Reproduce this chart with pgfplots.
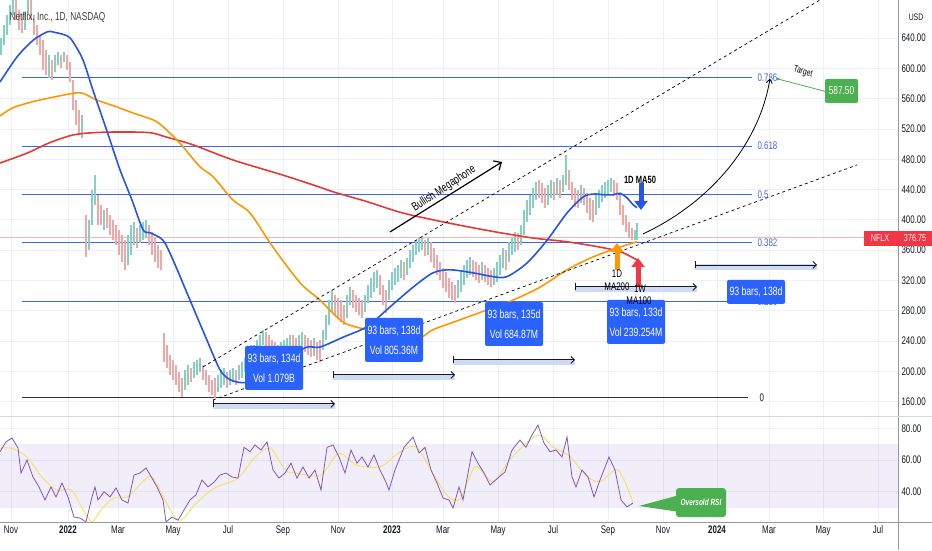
\documentclass[border=0pt]{standalone}
\usepackage{pgfplots}
\pgfplotsset{compat=1.18}
\usepackage{fontspec}
\setmainfont{Liberation Sans}[FakeStretch=0.72]
\usetikzlibrary{arrows.meta}
\definecolor{textc}{HTML}{131722}
\definecolor{gridc}{HTML}{EDF0F7}
\definecolor{sepc}{HTML}{9598A1}
\definecolor{sepl}{HTML}{D6D9E0}
\definecolor{fibc}{HTML}{3D66F0}
\definecolor{ma50}{HTML}{2455E8}
\definecolor{ma200}{HTML}{FF9800}
\definecolor{ma100}{HTML}{E53935}
\definecolor{candup}{HTML}{86CFC3}
\definecolor{canddn}{HTML}{F2A7A7}
\definecolor{boxblue}{HTML}{2962FF}
\definecolor{greenc}{HTML}{4CAF50}
\definecolor{rsic}{HTML}{7E57C2}
\definecolor{rsimac}{HTML}{F2E35A}
\definecolor{bandc}{HTML}{D0DAF5}
\definecolor{redlbl}{HTML}{F23645}
\definecolor{pricel}{HTML}{F7B5B5}
\pgfplotsset{/pgf/number format/assume math mode=true}
\newcommand{\fs}[1]{\fontsize{#1}{#1}\selectfont}
\tikzset{
  drtband/.style={fill=bandc},
  drtline/.style={textc, line width=0.9pt, {Bar[width=7pt]}-{Straight Barb[length=3.5pt,width=7pt]}},
  bbox/.style={fill=boxblue, rounded corners=2pt, text=white, minimum width=58pt, minimum height=44pt, align=center, font=\fs{12}, inner sep=1pt}
}
\begin{document}
\begin{tikzpicture}
\path[use as bounding box] (0pt,0pt) rectangle (932pt,550pt);
\begin{axis}[name=main, at={(0pt,134pt)}, anchor=south west, scale only axis, width=898pt, height=416pt,
  xmin=0, xmax=898, ymin=141, ymax=690.2,
  xtick={11,68,118,173,228,283,338,392,443,498,553,608,663,717,769,823,878},
  xticklabels=\empty,
  ytick={160,200,...,640},
  yticklabel pos=right,
  yticklabel style={font=\fs{11}, text=textc},
  yticklabel={\pgfmathprintnumber[fixed,fixed zerofill,precision=2]{\tick}},
  major tick length=0pt, grid=major, grid style={gridc, line width=0.7pt},
  axis line style={draw=none}, unbounded coords=jump]
% current price line
\addplot[pricel, line width=0.7pt] coordinates {(0,376.75)(898,376.75)};
% fib levels
\addplot[fibc, line width=0.9pt] coordinates {(22,587.5)(752,587.5)};
\addplot[fibc, line width=0.9pt] coordinates {(22,497.2)(752,497.2)};
\addplot[fibc, line width=0.9pt] coordinates {(22,433.75)(752,433.75)};
\addplot[fibc, line width=0.9pt] coordinates {(22,370.3)(752,370.3)};
\addplot[fibc, line width=0.9pt] coordinates {(22,291.9)(752,291.9)};
\addplot[black!80, line width=0.9pt] coordinates {(22,165)(748,165)};
% candles up
\addplot[candup, line width=1.3pt] coordinates {
(1,618)(1,640)(1,nan)(4,631)(4,657)(4,nan)(7,644)(7,670)(7,nan)(10,657)(10,684)(10,nan)(13,670)(13,690)(13,nan)
(25,651)(25,674)(25,nan)(28,670)(28,690)(28,nan)(49,587)(49,618)(49,nan)(55,595)(55,618)(55,nan)(58,604)(58,622)(58,nan)
(64,608)(64,622)(64,nan)(82,508)(82,538)(82,nan)
(89,360)(89,400)(89,nan)(92,393)(92,439)(92,nan)(95,420)(95,459)(95,nan)(104,387)(104,413)(104,nan)(128,340)(128,380)(128,nan)
(131,354)(131,393)(131,nan)(134,367)(134,397)(134,nan)(140,369)(140,393)(140,nan)(143,373)(143,397)(143,nan)(146,376)(146,400)(146,nan)
(185,175)(185,202)(185,nan)(188,182)(188,208)(188,nan)(194,191)(194,212)(194,nan)(197,195)(197,215)(197,nan)(200,199)(200,218)(200,nan)
(218,173)(218,195)(218,nan)(221,178)(221,202)(221,nan)(224,182)(224,204)(224,nan)(230,182)(230,202)(230,nan)(233,186)(233,204)(233,nan)
(239,189)(239,208)(239,nan)(242,191)(242,212)(242,nan)(245,199)(245,218)(245,nan)(248,204)(248,226)(248,nan)(251,212)(251,235)(251,nan)
(257,222)(257,241)(257,nan)(260,228)(260,248)(260,nan)(263,235)(263,255)(263,nan)(281,218)(281,239)(281,nan)(284,222)(284,241)(284,nan)
(287,226)(287,244)(287,nan)(290,228)(290,248)(290,nan)(299,228)(299,248)(299,nan)(302,231)(302,252)(302,nan)(314,220)(314,244)(314,nan)
(323,228)(323,255)(323,nan)(326,241)(326,274)(326,nan)(329,261)(329,294)(329,nan)(332,278)(332,307)(332,nan)(347,270)(347,301)(347,nan)
(350,288)(350,311)(350,nan)(365,278)(365,301)(365,nan)(368,290)(368,314)(368,nan)(371,297)(371,323)(371,nan)(374,305)(374,331)(374,nan)
(377,310)(377,334)(377,nan)(389,294)(389,321)(389,nan)(392,307)(392,331)(392,nan)(395,314)(395,336)(395,nan)(398,318)(398,340)(398,nan)
(401,323)(401,347)(401,nan)(407,327)(407,350)(407,nan)(410,336)(410,360)(410,nan)(413,344)(413,367)(413,nan)(416,354)(416,373)(416,nan)
(419,358)(419,376)(419,nan)(422,360)(422,379)(422,nan)(428,354)(428,376)(428,nan)(458,297)(458,321)(458,nan)(461,305)(461,331)(461,nan)
(464,314)(464,340)(464,nan)(467,323)(467,347)(467,nan)(470,327)(470,351)(470,nan)(482,321)(482,344)(482,nan)(494,314)(494,336)(494,nan)
(497,318)(497,344)(497,nan)(500,327)(500,354)(500,nan)(503,336)(503,363)(503,nan)(509,344)(509,371)(509,nan)(512,354)(512,376)(512,nan)
(515,358)(515,384)(515,nan)(521,367)(521,393)(521,nan)(524,380)(524,413)(524,nan)(527,397)(527,426)(527,nan)(530,406)(530,433)(530,nan)
(533,416)(533,442)(533,nan)(536,426)(536,450)(536,nan)(548,420)(548,446)(548,nan)(551,429)(551,453)(551,nan)(557,433)(557,455)(557,nan)
(563,437)(563,459)(563,nan)(566,446)(566,486)(566,nan)(581,422)(581,446)(581,nan)(596,406)(596,433)(596,nan)(599,416)(599,439)(599,nan)
(602,424)(602,446)(602,nan)(605,429)(605,450)(605,nan)(608,433)(608,453)(608,nan)(611,437)(611,455)(611,nan)(635,373)(635,387)(635,nan)
(637,373)(637,396)};
% candles down
\addplot[canddn, line width=1.3pt] coordinates {
(16,664)(16,690)(16,nan)(19,651)(19,677)(19,nan)(22,647)(22,670)(22,nan)(31,664)(31,690)(31,nan)(34,644)(34,670)(34,nan)
(37,631)(37,657)(37,nan)(40,618)(40,644)(40,nan)(43,598)(43,637)(43,nan)(46,591)(46,624)(46,nan)(52,585)(52,611)(52,nan)
(61,600)(61,618)(61,nan)(67,598)(67,618)(67,nan)(70,582)(70,608)(70,nan)(73,545)(73,585)(73,nan)(76,525)(76,558)(76,nan)(79,512)(79,545)(79,nan)
(86,351)(86,406)(86,nan)(98,393)(98,433)(98,nan)(101,393)(101,420)(101,nan)(107,389)(107,416)(107,nan)(110,380)(110,406)(110,nan)
(113,373)(113,400)(113,nan)(116,367)(116,393)(116,nan)(119,354)(119,387)(119,nan)(122,344)(122,380)(122,nan)(125,334)(125,373)(125,nan)
(137,363)(137,389)(137,nan)(149,367)(149,393)(149,nan)(152,354)(152,384)(152,nan)(155,344)(155,376)(155,nan)(158,336)(158,367)(158,nan)(161,334)(161,360)(161,nan)
(164,212)(164,251)(164,nan)(167,204)(167,235)(167,nan)(170,195)(170,222)(170,nan)(173,189)(173,215)(173,nan)(176,182)(176,208)(176,nan)
(179,173)(179,199)(179,nan)(182,166)(182,191)(182,nan)(191,186)(191,204)(191,nan)(203,189)(203,208)(203,nan)(206,182)(206,202)(206,nan)
(209,173)(209,195)(209,nan)(212,169)(212,189)(212,nan)(215,165)(215,191)(215,nan)(227,178)(227,199)(227,nan)(236,182)(236,202)(236,nan)
(254,215)(254,235)(254,nan)(266,231)(266,252)(266,nan)(269,226)(269,248)(269,nan)(272,218)(272,241)(272,nan)(275,215)(275,239)(275,nan)
(278,212)(278,235)(278,nan)(293,226)(293,248)(293,nan)(296,222)(296,244)(296,nan)(305,226)(305,248)(305,nan)(308,222)(308,244)(308,nan)
(311,219)(311,241)(311,nan)(317,215)(317,239)(317,nan)(320,212)(320,241)(320,nan)(335,274)(335,301)(335,nan)(338,270)(338,297)(338,nan)
(341,265)(341,294)(341,nan)(344,261)(344,288)(344,nan)(353,284)(353,307)(353,nan)(356,278)(356,301)(356,nan)(359,274)(359,297)(359,nan)
(362,270)(362,294)(362,nan)(380,301)(380,327)(380,nan)(383,288)(383,314)(383,nan)(386,277)(386,307)(386,nan)(404,321)(404,344)(404,nan)
(425,352)(425,373)(425,nan)(431,344)(431,371)(431,nan)(434,336)(434,363)(434,nan)(437,327)(437,354)(437,nan)(440,321)(440,344)(440,nan)
(443,310)(443,336)(443,nan)(446,305)(446,331)(446,nan)(449,297)(449,323)(449,nan)(452,294)(452,318)(452,nan)(455,290)(455,314)(455,nan)
(473,325)(473,347)(473,nan)(476,321)(476,344)(476,nan)(479,317)(479,340)(479,nan)(485,318)(485,340)(485,nan)(488,314)(488,336)(488,nan)
(491,311)(491,334)(491,nan)(506,334)(506,360)(506,nan)(518,360)(518,383)(518,nan)(539,429)(539,453)(539,nan)(542,422)(542,449)(542,nan)
(545,416)(545,442)(545,nan)(554,426)(554,450)(554,nan)(560,429)(560,453)(560,nan)(569,439)(569,466)(569,nan)(572,426)(572,450)(572,nan)
(575,417)(575,442)(575,nan)(578,416)(578,439)(578,nan)(584,420)(584,442)(584,nan)(587,409)(587,435)(587,nan)(590,400)(590,429)(590,nan)
(593,397)(593,426)(593,nan)(614,431)(614,453)(614,nan)(617,426)(617,449)(617,nan)(620,406)(620,433)(620,nan)(623,393)(623,420)(623,nan)
(626,384)(626,406)(626,nan)(629,376)(629,397)(629,nan)(632,373)(632,389)};
% moving averages
\addplot[ma100, line width=1.6pt, smooth] coordinates {(0,475)(27,488)(50,502)(73,512)(93,515)(120,516)(150,515)(167,509)(193,499)(233,479)(283,459)(320,443)(333,437)(367,424)(400,410)(433,400)(467,391)(500,383)(533,376)(567,371)(600,364)(620,358)(630,352)(637,347)};
\addplot[ma200, line width=1.6pt, smooth] coordinates {(0,537)(13,548)(33,556)(50,561)(73,567)(83,567)(97,558)(117,549)(133,541)(153,532)(163,523)(180,501)(200,470)(213,457)(233,426)(250,409)(273,364)(300,317)(320,294)(343,265)(367,255)(393,248)(420,245)(433,255)(460,268)(487,281)(513,294)(540,311)(567,334)(593,351)(620,364)(637,371)};
\addplot[ma50, line width=1.6pt, smooth] coordinates {(0,582)(17,615)(33,637)(47,648)(53,648)(67,643)(73,635)(83,611)(93,571)(107,517)(120,466)(132,426)(143,387)(150,383)(163,373)(173,347)(190,294)(207,241)(220,202)(230,189)(243,185)(260,189)(277,206)(290,219)(307,232)(320,232)(343,245)(367,259)(390,285)(413,311)(433,330)(450,334)(473,330)(493,325)(507,325)(527,343)(547,373)(567,409)(583,430)(593,434)(605,433)(613,433)(620,435)(627,429)(633,420)(637,416)};
% megaphone channel
\addplot[black, dash pattern=on 3pt off 3pt, line width=0.7pt] coordinates {(203,205.8)(820,690.2)};
\addplot[black, dash pattern=on 3pt off 3pt, line width=0.7pt] coordinates {(213,162.2)(857,472.4)};
% fib labels
\node[anchor=west, text=fibc, font=\fs{11}] at (axis cs:754,587.5) {0.786};
\node[anchor=west, text=fibc, font=\fs{11}] at (axis cs:754,497.2) {0.618};
\node[anchor=west, text=fibc, font=\fs{11}] at (axis cs:754,433.75) {0.5};
\node[anchor=west, text=fibc, font=\fs{11}] at (axis cs:754,370.3) {0.382};
\node[anchor=west, text=fibc, font=\fs{11}] at (axis cs:754,291.9) {0.236};
\node[anchor=west, text=textc, font=\fs{11}] at (axis cs:756,165) {0};
% date range tools
\fill[drtband] ([yshift=-5pt]axis cs:213,157) rectangle ([yshift=1pt]axis cs:335,157);
\draw[drtline] (axis cs:213,157) -- (axis cs:335,157);
\fill[drtband] ([yshift=-5pt]axis cs:333,195.2) rectangle ([yshift=1pt]axis cs:455,195.2);
\draw[drtline] (axis cs:333,195.2) -- (axis cs:455,195.2);
\fill[drtband] ([yshift=-5pt]axis cs:453,215) rectangle ([yshift=1pt]axis cs:575,215);
\draw[drtline] (axis cs:453,215) -- (axis cs:575,215);
\fill[drtband] ([yshift=-5pt]axis cs:575,311.4) rectangle ([yshift=1pt]axis cs:697,311.4);
\draw[drtline] (axis cs:575,311.4) -- (axis cs:697,311.4);
\fill[drtband] ([yshift=-5pt]axis cs:695,340.4) rectangle ([yshift=1pt]axis cs:817,340.4);
\draw[drtline] (axis cs:695,340.4) -- (axis cs:817,340.4);
% boxes
\node[bbox] at (axis cs:274,204.4) {93 bars, 134d\\[8pt]Vol 1.079B};
\node[bbox] at (axis cs:394,241.4) {93 bars, 138d\\[8pt]Vol 805.36M};
\node[bbox] at (axis cs:514,262.5) {93 bars, 135d\\[8pt]Vol 684.87M};
\node[bbox] at (axis cs:636,265.2) {93 bars, 133d\\[8pt]Vol 239.254M};
\node[bbox, minimum height=24pt] at (axis cs:756,304.8) {93 bars, 138d};
% annotations
\draw[black, line width=1.2pt, -{Straight Barb[length=6pt,width=11pt]}] (axis cs:390,384) -- (axis cs:502,476.4);
\node[rotate=33.5, font=\fs{12}, text=black] at (axis cs:444,441) {Bullish Megaphone};
\node[font=\bfseries\fs{10.5}, text=black] at (axis cs:640,452.6) {1D MA50};
\draw[ma50, line width=5pt, -{Triangle[length=9pt,width=13pt]}] (axis cs:641,449) -- (axis cs:641,413);
\draw[ma200, line width=5pt, -{Triangle[length=9pt,width=13pt]}] (axis cs:617,334) -- (axis cs:617,369.4);
\draw[redlbl, line width=5pt, -{Triangle[length=9pt,width=13pt]}] (axis cs:638,312) -- (axis cs:638,349.6);
\node[font=\fs{11}, text=black] at (axis cs:617,329.5) {1D};
\node[font=\fs{11}, text=black] at (axis cs:617,311.4) {MA200};
\node[font=\fs{11}, text=black] at (axis cs:640,308.8) {1W};
\node[font=\fs{11}, text=black] at (axis cs:639,292.9) {MA100};
\draw[black, line width=0.8pt, -{Straight Barb[length=4pt,width=6pt]}] (axis cs:643,381.3) .. controls (axis cs:715,426.2) and (axis cs:760,505.4) .. (axis cs:770,586.5);
\draw[greenc, line width=0.8pt] (axis cs:778,585.9) -- (axis cs:827,568.9);
\fill[greenc] (axis cs:778,585.9) circle (1.6pt);
\node[rotate=-15, font=\fs{9.5}, text=black] at (axis cs:803,595.2) {Target};
\node[fill=greenc, rounded corners=2pt, text=white, minimum width=33pt, minimum height=24pt, font=\fs{11.5}, inner sep=1pt] at (axis cs:841.5,570.1) {587.50};
\end{axis}
\begin{axis}[name=rsi, at={(0pt,28pt)}, anchor=south west, scale only axis, width=898pt, height=106pt,
  xmin=0, xmax=898, ymin=20.9, ymax=87.76,
  xtick={11,68,118,173,228,283,338,392,443,498,553,608,663,717,769,823,878},
  xticklabels={Nov,\textbf{2022},Mar,May,Jul,Sep,Nov,\textbf{2023},Mar,May,Jul,Sep,Nov,\textbf{2024},Mar,May,Jul},
  xticklabel style={font=\fs{11}, text=textc},
  ytick={40,60,80},
  yticklabel pos=right,
  yticklabel style={font=\fs{11}, text=textc},
  yticklabel={\pgfmathprintnumber[fixed,fixed zerofill,precision=2]{\tick}},
  major tick length=0pt, grid=major, grid style={gridc, line width=0.7pt},
  axis line style={draw=none}]
\fill[rsic, fill opacity=0.1] (axis cs:0,30) rectangle (axis cs:898,70);
\addplot[rsimac, line width=0.9pt, smooth] coordinates {(0,67.4)(11.9,67.4)(26.7,62.1)(41.6,49.5)(56.4,41.1)(71.3,41.1)(83.2,28.5)(92.1,21.1)(101,28.5)(112.9,35.8)(127.7,36.8)(142.6,46.3)(151.5,49.5)(163.4,36.8)(172.3,26.4)(181.2,22.1)(196.1,32.7)(213.9,42.1)(237.7,48.5)(255.5,62.1)(270.4,67.4)(285.2,53.7)(297.1,51.6)(320.9,50.5)(338.7,64.2)(356.5,56.8)(380.3,55.8)(398.1,64.2)(415.9,68.4)(433.7,50.5)(448.6,36.8)(460.5,35.8)(475.3,55.8)(493.2,46.3)(511,61.1)(537.7,75.8)(552.6,68.4)(570.4,62.1)(585.3,50.5)(600.1,46.3)(618,53.7)(632.8,33.7)};
\addplot[rsic, line width=0.8pt] coordinates {(0,65.2)(6,71.5)(12,73.9)(18,67.6)(21,51.8)(27,60)(33,49.3)(39,43)(45,34.8)(51,43)(56,36.7)(62,45.5)(68,36.7)(74,24)(80,23.4)(86,21)(92,36.7)(95,43)(98,34.8)(104,40)(110,36.7)(116,42.4)(122,34.8)(128,32.9)(134,50.5)(140,51.8)(146,55)(152,48.6)(157,43)(163,34.8)(166,21)(172,24)(178,22)(184,28.5)(190,34.8)(196,38)(202,47.4)(208,43)(214,46)(220,50.5)(226,51.8)(232,49.3)(238,48.6)(244,68)(250,65.2)(255,69.5)(261,66.3)(267,71.5)(273,53.7)(279,48.6)(285,51.8)(291,58)(297,48.6)(303,55.6)(309,48.6)(315,53.7)(321,41.1)(327,68)(333,69.5)(339,61.9)(345,51.8)(351,66.3)(357,58)(362,61.9)(368,55.6)(374,63.2)(380,53.7)(386,46)(389,41.1)(395,53.7)(404,68)(413,74.5)(419,64.4)(425,68)(431,53.7)(437,45.5)(443,36)(449,34.8)(453,29.7)(459,43)(463,34.8)(472,65.2)(478,58)(484,51.8)(490,44.2)(499,49.3)(505,52.4)(512,66.3)(520,72.6)(526,68)(532,75.8)(538,82)(544,70.7)(550,65.2)(556,66.3)(562,61.9)(567,74.5)(572,49.3)(576,43)(582,53.7)(588,49.3)(594,36.7)(600,47.4)(609,61.9)(615,53.7)(621,34.8)(627,30.4)(633,32.9)};
\fill[greenc] (axis cs:639,31.0) -- (axis cs:680,38.0) -- (axis cs:680,27.2) -- cycle;
\fill[greenc, rounded corners=3pt] (axis cs:676,42.3) rectangle (axis cs:726,24.0);
\node[font=\bfseries\itshape\fs{9}, text=white] at (axis cs:701,33.2) {Oversold RSI};
\end{axis}
% frame lines and labels
\draw[sepc, line width=0.8pt] (898pt,0pt) -- (898pt,550pt);
\draw[sepl, line width=0.8pt] (0pt,134pt) -- (932pt,134pt);
\draw[sepc, line width=0.8pt] (0pt,28pt) -- (932pt,28pt);
\node[anchor=west, font=\fs{11.5}, text=black!75] at (6pt,533pt) {Netflix, Inc., 1D, NASDAQ};
\node[draw=gray!30, rounded corners=1pt, font=\fs{9.5}, text=textc, inner sep=2.5pt] at (916pt,533pt) {USD};
\fill[redlbl] (864pt,304pt) rectangle (932pt,319pt);
\node[font=\fs{10}, text=white] at (880pt,311.5pt) {NFLX};
\node[font=\fs{10}, text=white] at (915pt,311.5pt) {376.75};
\end{tikzpicture}
\end{document}
